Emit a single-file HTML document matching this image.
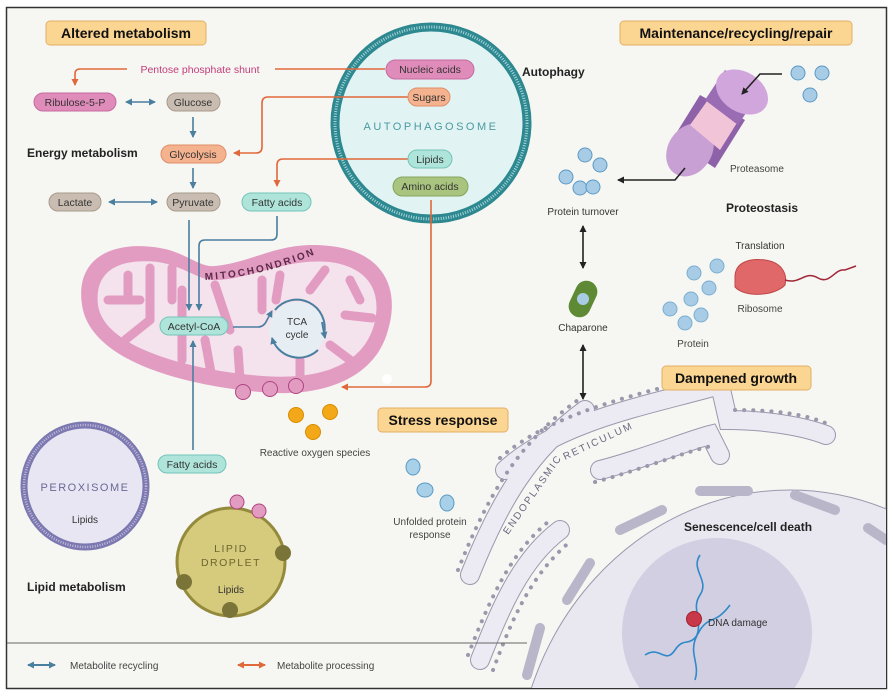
<!DOCTYPE html>
<html><head><meta charset="utf-8"><style>
html,body{margin:0;padding:0;background:#fff;width:893px;height:696px;overflow:hidden}
svg{display:block}
text{font-family:"Liberation Sans",sans-serif}
</style></head><body>
<svg width="893" height="696" viewBox="0 0 893 696" xmlns="http://www.w3.org/2000/svg">
<defs>
<marker id="ab" markerWidth="8" markerHeight="8" refX="6" refY="4" orient="auto-start-reverse" markerUnits="userSpaceOnUse"><path d="M0,0.5 L7,4 L0,7.5 Z" fill="#4a7fa0"/></marker>
<marker id="ao" markerWidth="8" markerHeight="8" refX="6" refY="4" orient="auto-start-reverse" markerUnits="userSpaceOnUse"><path d="M0,0.5 L7,4 L0,7.5 Z" fill="#e0683a"/></marker>
<marker id="ak" markerWidth="8" markerHeight="8" refX="6" refY="4" orient="auto-start-reverse" markerUnits="userSpaceOnUse"><path d="M0,0.5 L7,4 L0,7.5 Z" fill="#222"/></marker>
<clipPath id="fr"><rect x="7" y="8" width="879" height="680"/></clipPath>
</defs>
<rect x="0" y="0" width="893" height="696" fill="#fff"/>
<rect x="6.5" y="7.5" width="880" height="681" fill="#f6f6f2" stroke="#333" stroke-width="1.5"/>

<g clip-path="url(#fr)">
<ellipse cx="790" cy="790" rx="275" ry="300" fill="#e9e8f1" stroke="#9a98ac" stroke-width="1"/>
<circle cx="717" cy="633" r="95" fill="#d2cfe2"/>
<g fill="none" stroke="#b8b6c8" stroke-width="10" stroke-linecap="round">
<path d="M700,491 L748,491"/><path d="M795,495 L835,510"/><path d="M868,528 L886,540"/>
<path d="M620,530 L662,510"/><path d="M567,600 L590,563"/><path d="M527,675 L540,628"/>
</g>
<g fill="none" stroke-linecap="round">
<g stroke="#9a98ac" stroke-width="20">
<path d="M470,575 C500,500 530,450 585,410"/>
<path d="M505,470 C560,420 650,405 720,385 L728,420 C760,420 800,425 826,435"/>
<path d="M480,660 C500,610 520,560 560,530"/>
<path d="M600,470 C640,460 690,440 710,435 L720,455"/>
</g>
<g stroke="#ecebf3" stroke-width="18">
<path d="M470,575 C500,500 530,450 585,410"/>
<path d="M505,470 C560,420 650,405 720,385 L728,420 C760,420 800,425 826,435"/>
<path d="M480,660 C500,610 520,560 560,530"/>
<path d="M600,470 C640,460 690,440 710,435 L720,455"/>
</g>
<g stroke="#9a98ac" stroke-width="4" stroke-dasharray="0.1 9">
<path d="M458,570 C488,495 518,443 578,400"/>
<path d="M500,458 C555,410 645,393 718,373"/>
<path d="M735,410 C770,410 805,413 830,425"/>
<path d="M468,655 C488,605 508,555 548,522"/>
<path d="M493,670 C512,620 530,575 572,540"/>
<path d="M595,482 C640,470 690,450 712,446"/>
</g>
</g>
<text x="0" y="0" font-size="10" fill="#6a6880" letter-spacing="2" transform="translate(508,535) rotate(-55)">ENDOPLASMIC</text>
<text x="0" y="0" font-size="10" fill="#6a6880" letter-spacing="2" transform="translate(565,460) rotate(-25)">RETICULUM</text>
</g>

<line x1="7" y1="643" x2="527" y2="643" stroke="#666" stroke-width="1"/>
<line x1="28" y1="665" x2="55" y2="665" stroke="#4a7fa0" stroke-width="2" marker-start="url(#ab)" marker-end="url(#ab)"/>
<text x="70" y="669" font-size="10" fill="#444">Metabolite recycling</text>
<line x1="238" y1="665" x2="265" y2="665" stroke="#e0683a" stroke-width="2" marker-start="url(#ao)" marker-end="url(#ao)"/>
<text x="277" y="669" font-size="10" fill="#444">Metabolite processing</text>

<rect x="46" y="21" width="160" height="24" rx="4" fill="#fbd592" stroke="#e3b066"/>
<text x="126" y="38" font-size="14" font-weight="bold" text-anchor="middle" fill="#111">Altered metabolism</text>
<rect x="620" y="21" width="232" height="24" rx="4" fill="#fbd592" stroke="#e3b066"/>
<text x="736" y="38" font-size="14" font-weight="bold" text-anchor="middle" fill="#111">Maintenance/recycling/repair</text>
<rect x="662" y="366" width="149" height="24" rx="4" fill="#fbd592" stroke="#e3b066"/>
<text x="736" y="383" font-size="14" font-weight="bold" text-anchor="middle" fill="#111">Dampened growth</text>
<rect x="378" y="408" width="130" height="24" rx="4" fill="#fbd592" stroke="#e3b066"/>
<text x="443" y="425" font-size="14" font-weight="bold" text-anchor="middle" fill="#111">Stress response</text>

<circle cx="431" cy="123" r="96" fill="#e2f3f4" stroke="#2e8890" stroke-width="9"/>
<circle cx="431" cy="123" r="96" fill="none" stroke="#a6d6da" stroke-width="3" stroke-dasharray="1 1.5"/>
<text x="431" y="130" font-size="11" fill="#4a9aa0" text-anchor="middle" letter-spacing="2.5">AUTOPHAGOSOME</text>
<text x="522" y="76" font-size="12" font-weight="bold" fill="#222">Autophagy</text>

<g fill="none" stroke="#e0683a" stroke-width="1.6">
<path d="M385,69 L275,69"/>
<path d="M127,69 L80,69 Q75,69 75,74 L75,85" marker-end="url(#ao)"/>
<path d="M408,97 L268,97 Q262,97 262,103 L262,147 Q262,153 256,153 L234,153" marker-end="url(#ao)"/>
<path d="M408,159 L283,159 Q277,159 277,165 L277,186" marker-end="url(#ao)"/>
<path d="M431,200 L431,381 Q431,387 425,387 L342,387" marker-end="url(#ao)"/>
</g>
<text x="200" y="73" font-size="10.5" fill="#c33d7a" text-anchor="middle">Pentose phosphate shunt</text>

<path d="M82,305 C75,258 112,240 160,248 C185,252 200,268 215,266 C255,262 280,240 330,246 C385,252 400,290 388,330 C375,380 320,398 260,392 C180,385 90,360 82,305 Z" fill="#e29cc2"/>
<path d="M98,305 C94,270 120,258 158,262 C185,266 200,282 218,280 C255,278 285,258 330,262 C372,268 382,295 374,325 C362,368 315,380 262,376 C190,370 104,348 98,305 Z" fill="#f4e2ec"/>
<g stroke="#e29cc2" stroke-width="9" stroke-linecap="round" fill="none">
<path d="M108,300 L140,300"/><path d="M128,275 L128,300"/><path d="M150,268 L150,320"/><path d="M150,320 L125,340"/>
<path d="M172,268 L172,300"/><path d="M182,290 L182,360"/><path d="M205,340 L212,378"/>
<path d="M215,285 L230,330"/><path d="M238,350 L240,380"/><path d="M262,280 L262,310"/>
<path d="M280,275 L276,300"/><path d="M325,270 L310,290"/><path d="M350,280 L360,300"/><path d="M345,315 L372,318"/><path d="M330,345 L350,360"/><path d="M300,360 L300,380"/>
</g>
<path id="mtp" d="M205,280 C245,278 285,268 325,250" fill="none"/>
<text font-size="10" fill="#5a2a48" letter-spacing="2.2" font-weight="bold"><textPath href="#mtp">MITOCHONDRION</textPath></text>
<circle cx="243" cy="392" r="7.5" fill="#e29cc2" stroke="#b04480"/>
<circle cx="270" cy="389" r="7.5" fill="#e29cc2" stroke="#b04480"/>
<circle cx="296" cy="386" r="7.5" fill="#e29cc2" stroke="#b04480"/>
<circle cx="387" cy="379" r="5" fill="#fff"/>

<circle cx="297" cy="330" r="28" fill="#e6eef4"/>
<path d="M275,310 A28,28 0 0 1 324,334" fill="none" stroke="#4a7fa0" stroke-width="2"/>
<path d="M318,350 A28,28 0 0 1 272,338" fill="none" stroke="#4a7fa0" stroke-width="2" marker-end="url(#ab)"/>
<path d="M322,322 L325,338" fill="none" stroke="#4a7fa0" stroke-width="2" marker-end="url(#ab)"/>
<text x="297" y="325" font-size="10" text-anchor="middle" fill="#333">TCA</text>
<text x="297" y="338" font-size="10" text-anchor="middle" fill="#333">cycle</text>

<g fill="none" stroke="#4a7fa0" stroke-width="1.6">
<line x1="126" y1="102" x2="155" y2="102" marker-start="url(#ab)" marker-end="url(#ab)"/>
<line x1="193" y1="117" x2="193" y2="137" marker-end="url(#ab)"/>
<line x1="193" y1="168" x2="193" y2="188" marker-end="url(#ab)"/>
<line x1="109" y1="202" x2="157" y2="202" marker-start="url(#ab)" marker-end="url(#ab)"/>
<line x1="189" y1="220" x2="189" y2="310" marker-end="url(#ab)"/>
<path d="M277,216 L277,234 Q277,240 271,240 L205,240 Q199,240 199,246 L199,310" marker-end="url(#ab)"/>
<line x1="193" y1="450" x2="193" y2="341" marker-end="url(#ab)"/>
<path d="M233,327 L258,327 Q264,327 267,320 L272,311" marker-end="url(#ab)"/>
</g>

<g font-size="10.5" text-anchor="middle" fill="#333">
<rect x="34" y="93" width="82" height="18" rx="9" fill="#e08cba" stroke="#c86aa0"/><text x="75" y="106">Ribulose-5-P</text>
<rect x="167" y="93" width="53" height="18" rx="9" fill="#c9bdb2" stroke="#a89a8c"/><text x="193" y="106">Glucose</text>
<rect x="161" y="145" width="65" height="18" rx="9" fill="#f5b28e" stroke="#e08e68"/><text x="193" y="158">Glycolysis</text>
<rect x="49" y="193" width="52" height="18" rx="9" fill="#c9bdb2" stroke="#a89a8c"/><text x="75" y="206">Lactate</text>
<rect x="167" y="193" width="53" height="18" rx="9" fill="#c9bdb2" stroke="#a89a8c"/><text x="193" y="206">Pyruvate</text>
<rect x="242" y="193" width="69" height="18" rx="9" fill="#aee4da" stroke="#74c4b8"/><text x="277" y="206">Fatty acids</text>
<rect x="386" y="60" width="88" height="19" rx="9.5" fill="#e08cba" stroke="#c86aa0"/><text x="430" y="73">Nucleic acids</text>
<rect x="408" y="88" width="42" height="18" rx="9" fill="#f5b28e" stroke="#e08e68"/><text x="429" y="101">Sugars</text>
<rect x="408" y="150" width="44" height="18" rx="9" fill="#aee4da" stroke="#74c4b8"/><text x="430" y="163">Lipids</text>
<rect x="393" y="177" width="75" height="19" rx="9.5" fill="#a9c47e" stroke="#86a45c"/><text x="430" y="190">Amino acids</text>
<rect x="160" y="317" width="68" height="18" rx="9" fill="#aee4da" stroke="#74c4b8"/><text x="194" y="330">Acetyl-CoA</text>
<rect x="158" y="455" width="68" height="18" rx="9" fill="#aee4da" stroke="#74c4b8"/><text x="192" y="468">Fatty acids</text>
</g>
<text x="27" y="157" font-size="12" font-weight="bold" fill="#222">Energy metabolism</text>

<circle cx="296" cy="415" r="7.5" fill="#f2a818" stroke="#d88c00"/>
<circle cx="330" cy="412" r="7.5" fill="#f2a818" stroke="#d88c00"/>
<circle cx="313" cy="432" r="7.5" fill="#f2a818" stroke="#d88c00"/>
<text x="315" y="456" font-size="10" fill="#444" text-anchor="middle">Reactive oxygen species</text>

<circle cx="85" cy="486" r="61" fill="#e8e6f2" stroke="#7c78b0" stroke-width="7"/>
<circle cx="85" cy="486" r="61" fill="none" stroke="#c0bcdc" stroke-width="2.5" stroke-dasharray="1 1.5"/>
<text x="85" y="491" font-size="11" fill="#6a6896" text-anchor="middle" letter-spacing="1.5">PEROXISOME</text>
<text x="85" y="523" font-size="10" fill="#333" text-anchor="middle">Lipids</text>

<circle cx="231" cy="562" r="54" fill="#d6ca7c" stroke="#948a3c" stroke-width="3"/>
<circle cx="237" cy="502" r="7" fill="#e29cc2" stroke="#b04480"/>
<circle cx="259" cy="511" r="7" fill="#e29cc2" stroke="#b04480"/>
<circle cx="283" cy="553" r="8" fill="#7a7438"/>
<circle cx="184" cy="582" r="8" fill="#7a7438"/>
<circle cx="230" cy="610" r="8" fill="#7a7438"/>
<text x="231" y="552" font-size="10.5" fill="#6e6630" text-anchor="middle" letter-spacing="1.5">LIPID</text>
<text x="231" y="566" font-size="10.5" fill="#6e6630" text-anchor="middle" letter-spacing="1.5">DROPLET</text>
<text x="231" y="593" font-size="10" fill="#333" text-anchor="middle">Lipids</text>
<text x="27" y="591" font-size="12" font-weight="bold" fill="#222">Lipid metabolism</text>

<g fill="#a8d0e8" stroke="#5a9ac4" stroke-width="1">
<ellipse cx="413" cy="467" rx="7" ry="8"/><ellipse cx="425" cy="490" rx="8" ry="7"/><ellipse cx="447" cy="503" rx="7" ry="8"/>
</g>
<text x="430" y="525" font-size="10" fill="#444" text-anchor="middle">Unfolded protein</text>
<text x="430" y="538" font-size="10" fill="#444" text-anchor="middle">response</text>

<g>
<path d="M672,140 L700,95 L745,120 L715,168 Z" fill="#8e62a8"/>
<ellipse cx="690" cy="150" rx="22" ry="28" transform="rotate(32 690 150)" fill="#c8a0d4"/>
<path d="M690,125 L715,90 L745,110 L720,150 Z" fill="#f2c4d8"/>
<path d="M705,100 L725,70 L760,92 L738,125 Z" fill="#9a6cb4"/>
<ellipse cx="742" cy="92" rx="28" ry="20" transform="rotate(32 742 92)" fill="#d0a6dc"/>
</g>
<path d="M782,74 L760,74 L742,94" fill="none" stroke="#222" stroke-width="1.6" marker-end="url(#ak)"/>
<path d="M685,168 L675,180 L618,180" fill="none" stroke="#222" stroke-width="1.6" marker-end="url(#ak)"/>
<g fill="#a8cce6" stroke="#5a9ac4" stroke-width="1">
<circle cx="798" cy="73" r="7"/><circle cx="822" cy="73" r="7"/><circle cx="810" cy="95" r="7"/>
<circle cx="585" cy="155" r="7"/><circle cx="600" cy="165" r="7"/><circle cx="566" cy="177" r="7"/><circle cx="580" cy="188" r="7"/><circle cx="593" cy="187" r="7"/>
</g>
<text x="730" y="172" font-size="10" fill="#444">Proteasome</text>
<text x="583" y="215" font-size="10" fill="#333" text-anchor="middle">Protein turnover</text>
<text x="762" y="212" font-size="12" font-weight="bold" fill="#222" text-anchor="middle">Proteostasis</text>
<line x1="583" y1="226" x2="583" y2="268" stroke="#222" stroke-width="1.6" marker-start="url(#ak)" marker-end="url(#ak)"/>
<rect x="572" y="280" width="22" height="38" rx="11" fill="#5e8a36" transform="rotate(25 583 299)"/>
<circle cx="583" cy="299" r="6" fill="#a8cce6"/>
<text x="583" y="331" font-size="10" fill="#333" text-anchor="middle">Chaparone</text>
<line x1="583" y1="345" x2="583" y2="399" stroke="#222" stroke-width="1.6" marker-start="url(#ak)" marker-end="url(#ak)"/>
<text x="760" y="249" font-size="10" fill="#333" text-anchor="middle">Translation</text>
<path d="M735,277 C735,262 750,258 765,260 C780,262 788,272 785,285 C775,296 745,298 735,287 Z" fill="#e06868" stroke="#c04848"/>
<path d="M785,280 C800,285 805,270 818,278 C830,285 835,268 845,270 L856,266" fill="none" stroke="#a02838" stroke-width="1.5"/>
<text x="760" y="312" font-size="10" fill="#444" text-anchor="middle">Ribosome</text>
<g fill="#a8cce6" stroke="#7aaed0" stroke-width="1">
<circle cx="717" cy="266" r="7"/><circle cx="694" cy="273" r="7"/><circle cx="709" cy="288" r="7"/><circle cx="691" cy="299" r="7"/><circle cx="670" cy="309" r="7"/><circle cx="701" cy="315" r="7"/><circle cx="685" cy="323" r="7"/>
</g>
<text x="693" y="347" font-size="10" fill="#444" text-anchor="middle">Protein</text>

<path d="M700,555 C690,570 710,580 700,595 C690,610 705,620 695,640 C690,655 700,665 695,680" fill="none" stroke="#2e8ac8" stroke-width="1.6"/>
<path d="M645,655 C660,645 665,665 675,650 C685,635 690,650 700,630 C710,615 715,625 730,605" fill="none" stroke="#2e8ac8" stroke-width="1.6"/>
<circle cx="694" cy="619" r="7.5" fill="#c83848" stroke="#a02030"/>
<text x="708" y="626" font-size="10" fill="#333">DNA damage</text>
<text x="748" y="531" font-size="12" font-weight="bold" fill="#222" text-anchor="middle">Senescence/cell death</text>
</svg>
</body></html>
